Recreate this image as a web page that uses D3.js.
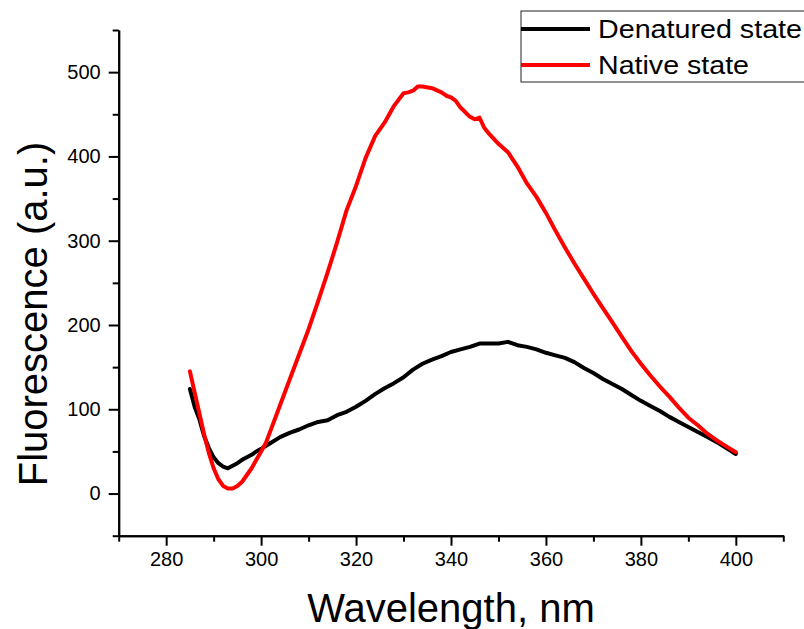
<!DOCTYPE html>
<html>
<head>
<meta charset="utf-8">
<script src="https://cdn.jsdelivr.net/npm/d3@7"></script>
<style>
  body { margin: 0; background: #fff; }
  text { font-family: "Liberation Sans", Arial, sans-serif; fill: #000; }
</style>
</head>
<body>
<svg id="chart" width="804" height="629"></svg>
<script>
const WIDTH = 804;
const HEIGHT = 629;

// Denatured state (black curve)
const denaturedX = [285,286,287,288,289,290,291,292,293,294,295,296,297,298,299,300,302,304,306,308,
                    310,312,314,316,318,320,322,324,326,328,330,332,334,336,338,340,342,344,346,348,
                    350,352,354,356,358,360,362,364,366,368,370,372,374,376,378,380,382,384,386,388,
                    390,392,394,396,398,400];
const denaturedY = [124,103,88,68,54,43,36,32,30,33,36,40,43,46,50,53,60,67,72,76,
                    81,85,87,93,97,103,110,118,125,131,138,147,154,159,163,168,171,174,178,178,
                    178,180,176,174,171,167,164,161,156,149,143,136,130,124,117,110,104,98,91,85,
                    79,73,67,61,54,47];

// Native state (red curve)
const nativeX = [285,286,287,288,289,290,291,292,293,294,295,296,297,298,299,300,301,302,303,304,
                 306,308,310,312,314,316,318,320,322,324,326,328,330,331,332,333,334,336,338,339,
                 340,341,342,344,345,346,347,348,350,352,354,356,358,360,362,364,366,368,370,372,
                 374,376,378,380,382,384,386,388,390,392,394,396,398,400];
const nativeY = [145,120,95,70,48,30,17,9,6,6,9,14,22,30,40,50,60,75,90,105,
                 135,165,195,228,262,298,336,365,398,424,440,460,475,476,478,483,483,481,476,472,
                 470,466,458,447,444,446,434,427,415,405,388,368,352,333,312,292,273,255,237,220,
                 203,186,169,154,140,127,115,102,90,81,71,63,56,49];

const xMajor = [280,300,320,340,360,380,400];
const xMinor = [270,290,310,330,350,370,390,410];
const yMajor = [0,100,200,300,400,500];
const yMinor = [-50,50,150,250,350,450,550];

const seriesNames = ["Denatured state", "Native state"];
const seriesColors = ["#000000", "#ff0000"];
const legendTextWidth = [204, 151];

const margin = { left: 118.7, right: 20.7, top: 30, bottom: 93.3 };

const svg = d3.select("#chart");

const xScale = d3.scaleLinear().domain([270, 410]).range([margin.left, WIDTH - margin.right]);
const yScale = d3.scaleLinear().domain([-50, 550]).range([HEIGHT - margin.bottom, margin.top]);

// Axes - minor ticks first, then major ticks with labels
function styleAxis(g) {
  g.select(".domain").attr("stroke", "#000").attr("stroke-width", 2);
  g.selectAll(".tick line").attr("stroke", "#000").attr("stroke-width", 2);
  g.selectAll(".tick text").style("font-size", "20px").attr("fill", "#000");
}

svg.append("g")
  .attr("transform", "translate(0," + yScale(-50) + ")")
  .call(d3.axisBottom(xScale).tickValues(xMinor).tickSize(6).tickSizeOuter(0).tickFormat(""))
  .call(styleAxis);
svg.append("g")
  .attr("transform", "translate(0," + yScale(-50) + ")")
  .call(d3.axisBottom(xScale).tickValues(xMajor).tickSize(10).tickSizeOuter(0).tickPadding(6))
  .call(styleAxis);

svg.append("g")
  .attr("transform", "translate(" + xScale(270) + ",0)")
  .call(d3.axisLeft(yScale).tickValues(yMinor).tickSize(6).tickSizeOuter(0).tickFormat(""))
  .call(styleAxis);
svg.append("g")
  .attr("transform", "translate(" + xScale(270) + ",0)")
  .call(d3.axisLeft(yScale).tickValues(yMajor).tickSize(10).tickSizeOuter(0).tickPadding(8))
  .call(styleAxis);

// Axis titles
svg.append("text")
  .attr("x", (xScale(270) + xScale(410)) / 2)
  .attr("y", 622)
  .attr("text-anchor", "middle")
  .style("font-size", "40px")
  .text("Wavelength, nm");

svg.append("text")
  .attr("transform", "translate(47,314) rotate(-90)")
  .attr("text-anchor", "middle")
  .style("font-size", "40px")
  .text("Fluorescence (a.u.)");

// Curves
const line = d3.line().x(d => xScale(d[0])).y(d => yScale(d[1]));
const series = [d3.zip(denaturedX, denaturedY), d3.zip(nativeX, nativeY)];

// draw black first, red on top
series.forEach((pts, i) => {
  svg.append("path")
    .datum(pts)
    .attr("d", line)
    .attr("fill", "none")
    .attr("stroke", seriesColors[i])
    .attr("stroke-width", 4)
    .attr("stroke-linejoin", "round")
    .attr("stroke-linecap", "round");
});

// Legend (box runs off the right edge, as in the original)
const legend = svg.append("g");
legend.append("rect")
  .attr("x", 521).attr("y", 11)
  .attr("width", 320).attr("height", 71)
  .attr("fill", "#fff")
  .attr("stroke", "#222")
  .attr("stroke-width", 1);

seriesNames.forEach((name, i) => {
  const cy = 29 + i * 36;
  legend.append("line")
    .attr("x1", 521).attr("x2", 590)
    .attr("y1", cy).attr("y2", cy)
    .attr("stroke", seriesColors[i])
    .attr("stroke-width", 4);
  legend.append("text")
    .attr("x", 598)
    .attr("y", cy + 9)
    .style("font-size", "25px")
    .attr("textLength", legendTextWidth[i])
    .attr("lengthAdjust", "spacingAndGlyphs")
    .text(name);
});
</script>
</body>
</html>
